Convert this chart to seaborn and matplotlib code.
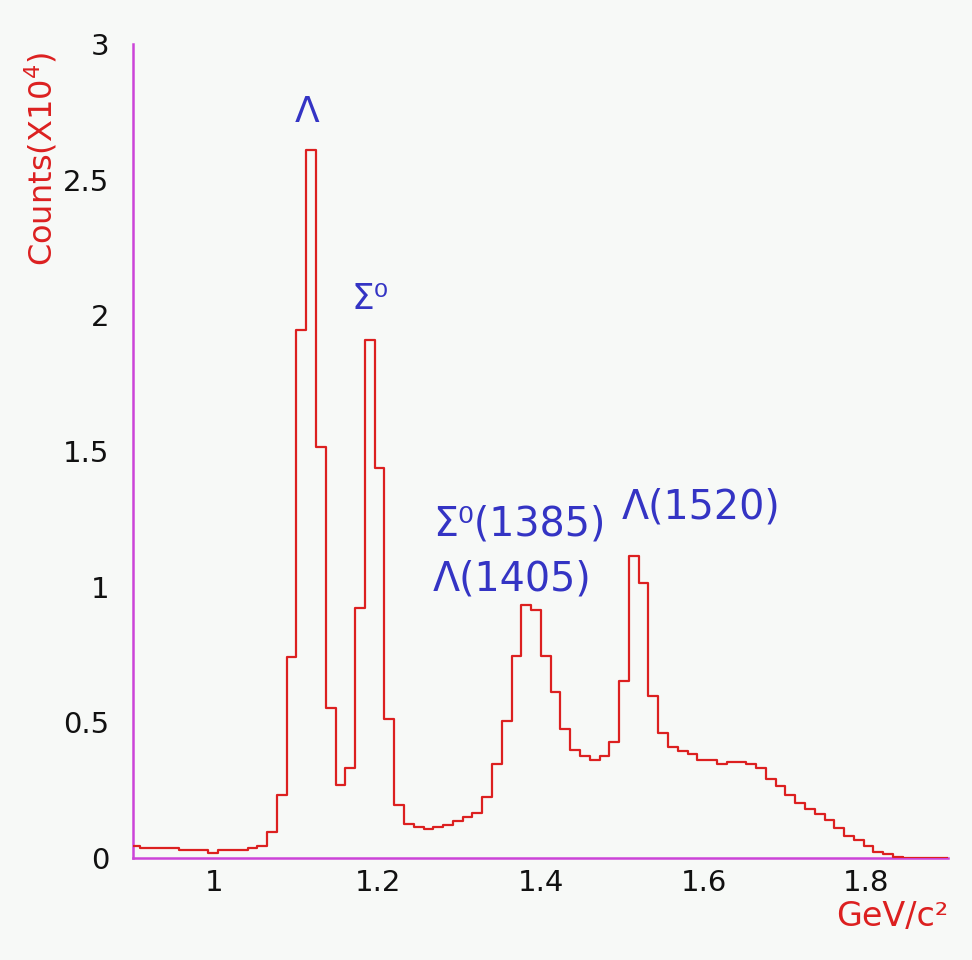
import numpy as np
import pandas as pd
import matplotlib
matplotlib.use("Agg")
import matplotlib.pyplot as plt
import seaborn as sns

# ---- data (counts in units of 10^4) ----
bin_start = 0.8965
bin_width = 0.012
counts = [0.046, 0.037, 0.037, 0.037, 0.037, 0.028, 0.028, 0.028, 0.020, 0.028,
          0.028, 0.028, 0.037, 0.046, 0.096, 0.234, 0.739, 1.946, 2.610, 1.513,
          0.553, 0.270, 0.332, 0.922, 1.909, 1.439, 0.514, 0.197, 0.125, 0.113,
          0.106, 0.113, 0.121, 0.135, 0.150, 0.166, 0.225, 0.347, 0.505, 0.746,
          0.934, 0.915, 0.746, 0.611, 0.475, 0.399, 0.376, 0.362, 0.376, 0.427,
          0.651, 1.114, 1.013, 0.597, 0.460, 0.409, 0.393, 0.384, 0.363, 0.360,
          0.348, 0.355, 0.355, 0.348, 0.333, 0.290, 0.265, 0.234, 0.201, 0.179,
          0.163, 0.140, 0.111, 0.080, 0.065, 0.044, 0.023, 0.015, 0.004, 0.0,
          0.0, 0.0, 0.0, 0.0]

x_ticks = [1.0, 1.2, 1.4, 1.6, 1.8]
x_tick_labels = ["1", "1.2", "1.4", "1.6", "1.8"]
y_ticks = [0, 0.5, 1.0, 1.5, 2.0, 2.5, 3.0]
y_tick_labels = ["0", "0.5", "1", "1.5", "2", "2.5", "3"]

peak_labels = ["Λ", "Σ⁰", "Σ⁰(1385)", "Λ(1405)", "Λ(1520)"]
peak_label_x = [1.1135, 1.191, 1.268, 1.268, 1.500]
peak_label_y = [2.75, 2.06, 1.23, 1.025, 1.29]
peak_label_ha = ["center", "center", "left", "left", "left"]
peak_label_size = [26, 26, 28.5, 28.5, 28.5]

n_bins = len(counts)
edges = bin_start + bin_width * np.arange(n_bins + 1)
centers = (edges[:-1] + edges[1:]) / 2
df = pd.DataFrame({"mass": centers, "counts": counts})

# ---- style ----
bg = "#f7f9f7"
red = "#dc2020"
magenta = "#cc44d8"
blue = "#3434c4"

sns.set_theme(style="white")
plt.rcParams["font.family"] = ["DejaVu Sans"]

fig = plt.figure(figsize=(9.72, 9.6), dpi=100, facecolor=bg)
ax = fig.add_axes([133 / 972, 1 - 858 / 960, (948 - 133) / 972, (858 - 44) / 960])
ax.set_facecolor(bg)

sns.histplot(data=df, x="mass", weights="counts", bins=n_bins,
             binrange=(float(edges[0]), float(edges[-1])), element="step",
             fill=False, color=red, linewidth=1.6, ax=ax, zorder=3)

ax.set_xlim(0.9, 1.9)
ax.set_ylim(0, 3)

ax.set_xticks(x_ticks)
ax.set_xticklabels(x_tick_labels)
ax.set_yticks(y_ticks)
ax.set_yticklabels(y_tick_labels)
ax.tick_params(axis="both", direction="in", colors="black", width=1.6,
               labelsize=21, labelcolor="#111111")
ax.tick_params(axis="x", length=9, pad=8)
ax.tick_params(axis="y", length=9.5, pad=17)

for s in ["top", "right"]:
    ax.spines[s].set_visible(False)
for s in ["left", "bottom"]:
    ax.spines[s].set_color(magenta)
    ax.spines[s].set_linewidth(1.8)

ax.set_ylabel("Counts(X10$^4$)", color=red, fontsize=23)
ax.yaxis.set_label_coords(-0.113, 0.859)
ax.yaxis.label.set(ha="center", va="center", rotation_mode="anchor")

ax.set_xlabel("GeV/c²", color=red, fontsize=24)
ax.xaxis.set_label_coords(1.0, -0.072)
ax.xaxis.label.set(ha="right", va="center")

for t, xx, yy, ha, fs in zip(peak_labels, peak_label_x, peak_label_y,
                             peak_label_ha, peak_label_size):
    ax.text(xx, yy, t, color=blue, fontsize=fs, ha=ha, va="center")

fig.savefig("out.png", dpi=100, facecolor=bg)
